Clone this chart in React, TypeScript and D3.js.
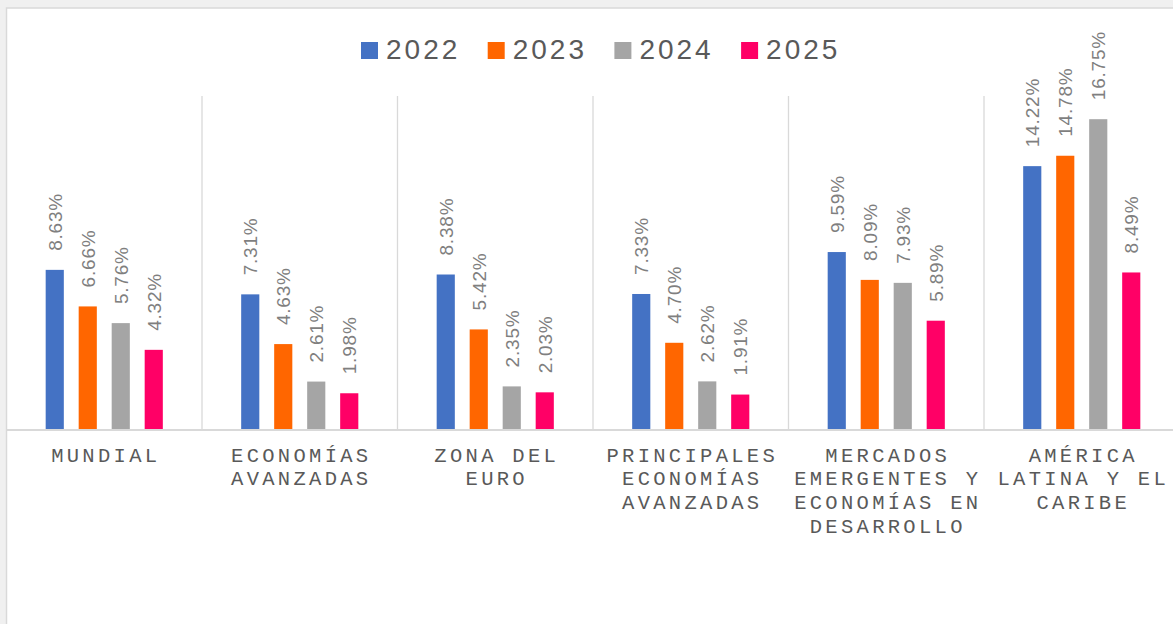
import React from 'react'
import * as d3 from 'd3'

const W = 1173
const H = 624

// data
const categories = [
  'MUNDIAL',
  'ECONOMÍAS\nAVANZADAS',
  'ZONA DEL\nEURO',
  'PRINCIPALES\nECONOMÍAS\nAVANZADAS',
  'MERCADOS\nEMERGENTES Y\nECONOMÍAS EN\nDESARROLLO',
  'AMÉRICA\nLATINA Y EL\nCARIBE'
]
const seriesNames = ['2022', '2023', '2024', '2025']
const values2022 = [8.63, 7.31, 8.38, 7.33, 9.59, 14.22]
const values2023 = [6.66, 4.63, 5.42, 4.7, 8.09, 14.78]
const values2024 = [5.76, 2.61, 2.35, 2.62, 7.93, 16.75]
const values2025 = [4.32, 1.98, 2.03, 1.91, 5.89, 8.49]
const seriesValues = [values2022, values2023, values2024, values2025]

const colors = ['#4472C4', '#FF6600', '#A5A5A5', '#FF0066']

// layout
const PLOT = { left: 6.5, right: 1179.5, top: 96, bottom: 430 }
const GROUP_WIDTH = 132

const monoFont = '"Liberation Mono", "DejaVu Sans Mono", monospace'
const sansFont = '"Liberation Sans", Arial, sans-serif'

export default function App() {
  const x = d3
    .scaleBand<string>()
    .domain(categories)
    .range([PLOT.left, PLOT.right])
    .padding(0)

  const xInner = d3
    .scaleBand<string>()
    .domain(seriesNames)
    .range([0, GROUP_WIDTH])
    .paddingInner(0.45)
    .paddingOuter(0.225)

  const y = d3.scaleLinear().domain([0, 18]).range([PLOT.bottom, PLOT.top])

  const groupX = (c: string) => (x(c) as number) + (x.bandwidth() - GROUP_WIDTH) / 2

  const legendStart = 361
  const legendStep = 126.7

  return (
    <>
      <style>{'body{margin:0}'}</style>
      <svg width={W} height={H} style={{ display: 'block' }}>
        <rect x={0} y={0} width={W} height={H} fill="#f0f0f0" />
        <rect x={6.5} y={8} width={W} height={H} fill="#ffffff" stroke="#d9d9d9" strokeWidth={1.5} />

        {/* legend */}
        {seriesNames.map((s, i) => (
          <g key={s} transform={`translate(${legendStart + i * legendStep},0)`}>
            <rect x={0} y={42} width={17} height={17} fill={colors[i]} />
            <text
              x={25}
              y={58.5}
              fontFamily={sansFont}
              fontSize={28}
              letterSpacing={3}
              fill="#595959"
            >
              {s}
            </text>
          </g>
        ))}

        {/* category separators */}
        {categories.slice(1).map(c => (
          <line
            key={c}
            x1={x(c)}
            x2={x(c)}
            y1={y(18)}
            y2={y(0)}
            stroke="#d9d9d9"
            strokeWidth={1.3}
          />
        ))}

        {/* bars */}
        {seriesNames.map((s, si) =>
          categories.map((c, ci) => {
            const v = seriesValues[si][ci]
            const bx = groupX(c) + (xInner(s) as number)
            return (
              <rect
                key={s + c}
                x={bx}
                y={y(v)}
                width={xInner.bandwidth()}
                height={y(0) - y(v)}
                fill={colors[si]}
              />
            )
          })
        )}

        {/* value labels */}
        {seriesNames.map((s, si) =>
          categories.map((c, ci) => {
            const v = seriesValues[si][ci]
            const cx = groupX(c) + (xInner(s) as number) + xInner.bandwidth() / 2 + 7
            const ty = y(v) - 19
            return (
              <text
                key={'l' + s + c}
                transform={`translate(${cx},${ty}) rotate(-90)`}
                fontFamily={sansFont}
                fontSize={19}
                letterSpacing={0.8}
                fill="#7f7f7f"
              >
                {v.toFixed(2) + '%'}
              </text>
            )
          })
        )}

        {/* axis line */}
        <line x1={PLOT.left} x2={PLOT.right} y1={y(0)} y2={y(0)} stroke="#d9d9d9" strokeWidth={2} />

        {/* category labels */}
        {categories.map(c => {
          const cx = (x(c) as number) + x.bandwidth() / 2 + 1.5
          return (
            <text
              key={'c' + c}
              x={cx}
              y={461.7}
              textAnchor="middle"
              fontFamily={monoFont}
              fontSize={20.5}
              letterSpacing={3.3}
              fill="#595959"
            >
              {c.split('\n').map((line, li) => (
                <tspan key={li} x={cx} dy={li === 0 ? 0 : 23.7}>
                  {line}
                </tspan>
              ))}
            </text>
          )
        })}
      </svg>
    </>
  )
}
